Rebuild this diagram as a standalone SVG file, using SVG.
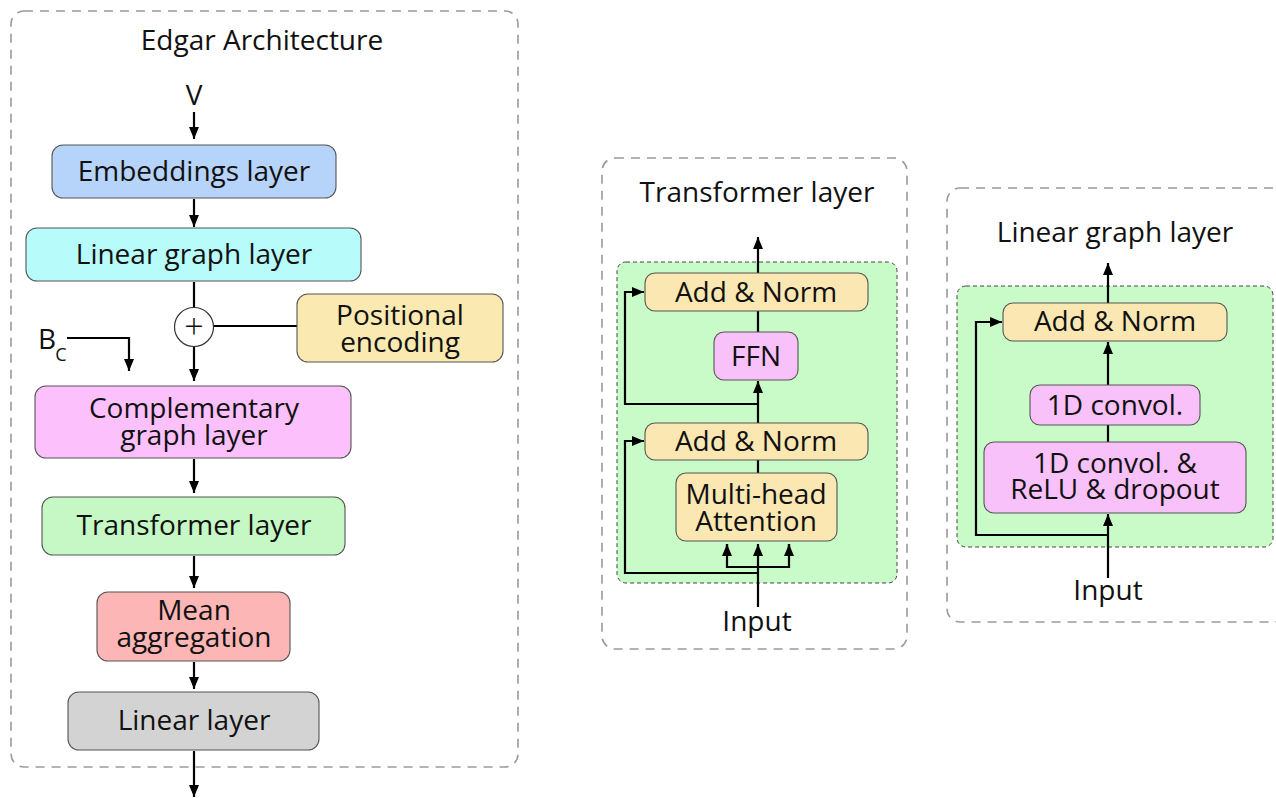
<svg xmlns="http://www.w3.org/2000/svg" width="1276" height="798" viewBox="0 0 1276 798">
  <style>
    text { font-family: "Open Sans", "Noto Sans", "Liberation Sans", sans-serif; font-size: 28px; fill: #111; text-anchor: middle; }
    .panel { fill: none; stroke: #9a9a9a; stroke-width: 1.6; stroke-dasharray: 9 7; }
    .inner { stroke: #444; stroke-width: 1; stroke-dasharray: 4 3; fill: #c8fbc8; }
    .box { stroke: #555; stroke-width: 1.1; }
    .wire { fill: none; stroke: #000; stroke-width: 2.2; }
  </style>
  <defs>
    <marker id="arrow" markerUnits="userSpaceOnUse" markerWidth="12" markerHeight="12" viewBox="0 0 12 12" refX="12" refY="6" orient="auto">
      <path d="M0,1 L12,6 L0,11 z" fill="#000"/>
    </marker>
  </defs>

  <rect width="1276" height="798" fill="#fff"/>

  <!-- panels -->
  <rect class="panel" x="11" y="11" width="507" height="756" rx="13"/>
  <rect class="panel" x="602" y="158" width="305" height="491" rx="13"/>
  <rect class="panel" x="947" y="188" width="340" height="434" rx="13"/>

  <text x="262" y="50">Edgar Architecture</text>
  <text x="757" y="202">Transformer layer</text>
  <text x="1115" y="242">Linear graph layer</text>

  <!-- inner blocks -->
  <rect class="inner" x="617" y="262" width="280" height="321" rx="9"/>
  <rect class="inner" x="957" y="286" width="316" height="261" rx="9"/>

  <!-- connectors -->
  <g id="connectors">
    <line class="wire" x1="194" y1="112" x2="194" y2="139" marker-end="url(#arrow)"/>
    <line class="wire" x1="194" y1="199" x2="194" y2="227" marker-end="url(#arrow)"/>
    <line class="wire" x1="194" y1="282" x2="194" y2="307"/>
    <line class="wire" x1="213" y1="326" x2="297" y2="326"/>
    <line class="wire" x1="194" y1="347" x2="194" y2="381" marker-end="url(#arrow)"/>
    <polyline class="wire" points="67,338 129,338 129,371" marker-end="url(#arrow)"/>
    <line class="wire" x1="194" y1="459" x2="194" y2="493" marker-end="url(#arrow)"/>
    <line class="wire" x1="194" y1="556" x2="194" y2="588" marker-end="url(#arrow)"/>
    <line class="wire" x1="194" y1="662" x2="194" y2="689" marker-end="url(#arrow)"/>
    <line class="wire" x1="194" y1="751" x2="194" y2="797" marker-end="url(#arrow)"/>

    <!-- transformer layer -->
    <line class="wire" x1="758" y1="273" x2="758" y2="237" marker-end="url(#arrow)"/>
    <line class="wire" x1="758" y1="311" x2="758" y2="332"/>
    <line class="wire" x1="758" y1="423" x2="758" y2="381" marker-end="url(#arrow)"/>
    <polyline class="wire" points="758,404 625,404 625,292 644,292" marker-end="url(#arrow)"/>
    <line class="wire" x1="758" y1="460" x2="758" y2="473"/>
    <line class="wire" x1="758" y1="607" x2="758" y2="544" marker-end="url(#arrow)"/>
    <polyline class="wire" points="727,544 727,567 789,567 789,544"/>
    <line class="wire" x1="727" y1="550" x2="727" y2="544" marker-end="url(#arrow)"/>
    <line class="wire" x1="789" y1="550" x2="789" y2="544" marker-end="url(#arrow)"/>
    <polyline class="wire" points="758,573 625,573 625,441 644,441" marker-end="url(#arrow)"/>

    <!-- linear graph layer -->
    <line class="wire" x1="1108" y1="303" x2="1108" y2="263" marker-end="url(#arrow)"/>
    <line class="wire" x1="1108" y1="385" x2="1108" y2="342" marker-end="url(#arrow)"/>
    <line class="wire" x1="1108" y1="425" x2="1108" y2="442"/>
    <line class="wire" x1="1108" y1="578" x2="1108" y2="514" marker-end="url(#arrow)"/>
    <polyline class="wire" points="1108,535 976,535 976,322 1002,322" marker-end="url(#arrow)"/>
  </g>

  <!-- left column nodes -->
  <text x="194" y="105">V</text>

  <g id="embeddings">
    <rect class="box" x="52" y="145" width="284" height="53" rx="11" fill="#b6d3fa"/>
    <text x="194" y="181">Embeddings layer</text>
  </g>
  <g id="linear-graph">
    <rect class="box" x="26" y="228" width="335" height="53" rx="11" fill="#b7fbfb"/>
    <text x="194" y="264">Linear graph layer</text>
  </g>
  <g id="plus">
    <circle cx="194" cy="327" r="19.5" fill="#fff" stroke="#333" stroke-width="1.2"/>
    <text x="194" y="339" style="font-size:34px;font-weight:300">+</text>
  </g>
  <g id="positional">
    <rect class="box" x="297" y="294" width="206" height="68" rx="11" fill="#fbe9b2"/>
    <text x="400" y="325">Positional</text>
    <text x="400" y="352">encoding</text>
  </g>
  <g id="bc">
    <text x="47" y="349">B</text>
    <text x="61" y="361" style="font-size:18px">C</text>
  </g>
  <g id="complementary">
    <rect class="box" x="35" y="386" width="316" height="72" rx="11" fill="#fcc1fc"/>
    <text x="194" y="418">Complementary</text>
    <text x="194" y="445">graph layer</text>
  </g>
  <g id="transformer">
    <rect class="box" x="42" y="497" width="303" height="58" rx="11" fill="#c5f8c4"/>
    <text x="194" y="535">Transformer layer</text>
  </g>
  <g id="mean">
    <rect class="box" x="97" y="592" width="193" height="69" rx="11" fill="#fcb6b6"/>
    <text x="194" y="620">Mean</text>
    <text x="194" y="647">aggregation</text>
  </g>
  <g id="linear">
    <rect class="box" x="68" y="692" width="251" height="58" rx="11" fill="#d3d3d3"/>
    <text x="194" y="730">Linear layer</text>
  </g>

  <!-- transformer layer detail -->
  <g id="t-addnorm-top">
    <rect class="box" x="645" y="273" width="223" height="38" rx="10" fill="#fbe7b2"/>
    <text x="756" y="302">Add &amp; Norm</text>
  </g>
  <g id="t-ffn">
    <rect class="box" x="714" y="332" width="84" height="48" rx="10" fill="#f9c1f9"/>
    <text x="756" y="366">FFN</text>
  </g>
  <g id="t-addnorm-bottom">
    <rect class="box" x="645" y="423" width="223" height="37" rx="10" fill="#fbe7b2"/>
    <text x="756" y="451">Add &amp; Norm</text>
  </g>
  <g id="t-mha">
    <rect class="box" x="676" y="473" width="161" height="68" rx="10" fill="#fbe7b2"/>
    <text x="756" y="504">Multi-head</text>
    <text x="756" y="531">Attention</text>
  </g>
  <text x="757" y="631">Input</text>

  <!-- linear graph layer detail -->
  <g id="l-addnorm">
    <rect class="box" x="1003" y="303" width="224" height="38" rx="10" fill="#fbe7b2"/>
    <text x="1115" y="331">Add &amp; Norm</text>
  </g>
  <g id="l-conv">
    <rect class="box" x="1030" y="385" width="170" height="40" rx="10" fill="#f9c1f9"/>
    <text x="1115" y="415">1D convol.</text>
  </g>
  <g id="l-conv-relu">
    <rect class="box" x="984" y="442" width="262" height="71" rx="10" fill="#f9c1f9"/>
    <text x="1115" y="473">1D convol. &amp;</text>
    <text x="1115" y="499">ReLU &amp; dropout</text>
  </g>
  <text x="1108" y="600">Input</text>
</svg>
